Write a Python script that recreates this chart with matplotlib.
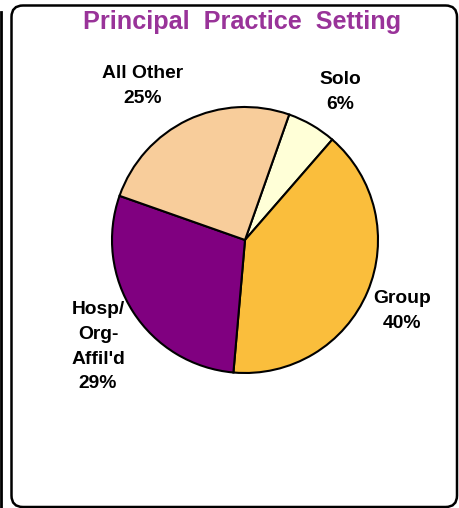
import matplotlib
matplotlib.use("Agg")
import matplotlib.pyplot as plt
from matplotlib.patches import FancyBboxPatch
from matplotlib.lines import Line2D

categories = ["Solo", "Group", "Hosp/\nOrg-\nAffil'd", "All Other"]
values = [6, 40, 29, 25]
colors = ["#FFFFD7", "#FABE3C", "#800080", "#F8CD9B"]
label_pos = [(0.714, 1.115), (1.18, -0.532), (-1.105, -0.803), (-0.767, 1.16)]

W, H = 459, 508
fig = plt.figure(figsize=(W / 100, H / 100), dpi=100)
fig.patch.set_facecolor("white")

# frame
fig.add_artist(FancyBboxPatch((11.5 / W, 1 - 507 / H), (457 - 11.5) / W, (507 - 5.5) / H,
                              boxstyle="round,pad=0,rounding_size=0.025",
                              transform=fig.transFigure, fill=False, lw=1.8, ec="black",
                              mutation_aspect=W / H))
fig.add_artist(Line2D([1 / W, 1 / W], [1 - 12 / H, 0], transform=fig.transFigure, color="black", lw=2))

cx, cy, r = 245, 240, 133
ax = fig.add_axes([(cx - r) / W, 1 - (cy + r) / H, 2 * r / W, 2 * r / H])
ax.pie(values, colors=colors, startangle=70.6, counterclock=False,
       wedgeprops=dict(edgecolor="black", linewidth=1.5))
ax.set_xlim(-1, 1)
ax.set_ylim(-1, 1)
ax.set_aspect("equal")
ax.axis("off")

for cat, v, (x, y) in zip(categories, values, label_pos):
    ax.text(x, y, f"{cat}\n{v}%", ha="center", va="center", fontsize=13.9,
            fontweight="bold", family="Liberation Sans", linespacing=1.6, clip_on=False)

fig.text(242 / W, 1 - 22 / H, "Principal  Practice  Setting", ha="center", va="center",
         fontsize=18.2, fontweight="bold", family="Liberation Sans", color="#993399")

fig.savefig("out.png", dpi=100)
